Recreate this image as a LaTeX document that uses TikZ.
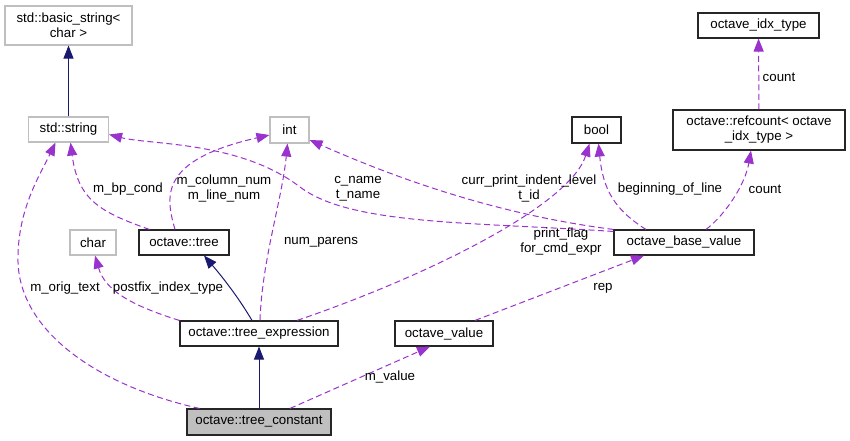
\documentclass[tikz,border=0pt]{standalone}
\usepackage{fontspec}
\setmainfont{Liberation Sans}
\usetikzlibrary{arrows.meta}
\definecolor{edgepurple}{HTML}{9A32CD}
\definecolor{inhblue}{HTML}{191970}
\definecolor{boxgray}{HTML}{BFBFBF}
\tikzset{
  cls/.style={draw=black!85,line width=1.1pt,fill=white,inner sep=0pt,align=center,
    font=\fontsize{13.3}{15}\selectfont},
  extcls/.style={cls,draw=boxgray},
  inh/.style={draw=inhblue,line width=1pt,-{Triangle[length=13pt,width=10pt]}},
  use/.style={draw=edgepurple,line width=1pt,dash pattern=on 6pt off 3.5pt,
    -{Triangle[length=13pt,width=10pt]},edgepurple},
  lbl/.style={align=center,inner sep=0pt,font=\fontsize{13.3}{15}\selectfont}
}
\begin{document}
\begin{tikzpicture}[x=1pt,y=-1pt]
\useasboundingbox (0,0) rectangle (850,441);
% classes
\node[extcls,minimum width=127pt,minimum height=39pt] (bstr) at (68.5,25.5) {std::basic\_string<\\char >};
\node[extcls,minimum width=80pt,minimum height=25pt] (str) at (68.5,129.5) {std::string};
\node[extcls,minimum width=39pt,minimum height=26pt] (int) at (289.5,130) {int};
\node[cls,minimum width=49pt,minimum height=26pt] (bool) at (596.5,130) {bool};
\node[cls,minimum width=121pt,minimum height=25pt] (idx) at (758.5,25.5) {octave\_idx\_type};
\node[cls,minimum width=172pt,minimum height=40pt] (ref) at (759,130) {octave::refcount< octave\\\_idx\_type >};
\node[cls,minimum width=140pt,minimum height=25pt] (base) at (684,242.5) {octave\_base\_value};
\node[extcls,minimum width=46pt,minimum height=25pt] (char) at (93,242.5) {char};
\node[cls,minimum width=90pt,minimum height=25pt] (tree) at (184,242.5) {octave::tree};
\node[cls,minimum width=158pt,minimum height=25pt] (texpr) at (259,333.5) {octave::tree\_expression};
\node[cls,minimum width=98pt,minimum height=25pt] (oval) at (444,333.5) {octave\_value};
\node[cls,fill=boxgray,minimum width=144pt,minimum height=26pt] (tc) at (259,422) {octave::tree\_constant};
% inheritance
\draw[inh] (str) -- (bstr);
\draw[inh] ([xshift=-7pt]texpr.north) .. controls (240,300) and (225,280) .. ([xshift=20pt]tree.south);
\draw[inh] (tc) -- (texpr);
% members
\draw[use] ([xshift=13pt]tc.north west) .. controls (95,385) and (20,330) .. (18,262)
  .. controls (17,210) and (40,175) .. ([xshift=-13pt]str.south);
\draw[use] ([xshift=11pt]tree.north west) .. controls (100,212) and (78,200) .. ([xshift=2pt]str.south);
\draw[use] ([xshift=-9pt]tree.north) .. controls (165,195) and (160,160) .. ([yshift=-5pt]int.west);
\draw[use] ([yshift=-2pt]base.north west) .. controls (470,222) and (350,225) .. (300,187)
  .. controls (240,141) and (150,145) .. ([yshift=-5pt]str.east);
\draw[use] (base.north west) .. controls (500,215) and (400,180) .. ([yshift=-10pt]int.east);
\draw[use] ([xshift=1pt]texpr.north) .. controls (262,260) and (282,200) .. ([xshift=-2pt]int.south);
\draw[use] ([xshift=38pt]texpr.north) .. controls (430,275) and (570,205) .. ([xshift=-7pt]bool.south);
\draw[use] ([xshift=-38pt]base.north) .. controls (615,210) and (603,190) .. ([xshift=2pt]bool.south);
\draw[use] ([xshift=22pt]base.north) .. controls (725,215) and (745,185) .. ([xshift=-8pt]ref.south);
\draw[use] (ref) -- (idx);
\draw[use] (texpr.north west) .. controls (130,305) and (105,290) .. ([xshift=2pt]char.south);
\draw[use] ([xshift=31pt]oval.north) -- ([xshift=-40pt]base.south);
\draw[use] ([xshift=31pt]tc.north) -- ([xshift=-14pt]oval.south);
% labels
\node[lbl] (l_orig) at (65,288) {m\_orig\_text};
\node[lbl] (l_bp) at (128,189) {m\_bp\_cond};
\node[lbl] (l_col) at (224,188.5) {m\_column\_num\\m\_line\_num};
\node[lbl] (l_cname) at (358,188.5) {c\_name\\t\_name};
\node[lbl] (l_curr) at (529,188.5) {curr\_print\_indent\_level\\t\_id};
\node[lbl] (l_begin) at (670,189) {beginning\_of\_line};
\node[lbl] (l_count) at (765,189) {count};
\node[lbl] (l_count2) at (779,77) {count};
\node[lbl] (l_num) at (321,242) {num\_parens};
\node[lbl] (l_print) at (561,242) {print\_flag\\for\_cmd\_expr};
\node[lbl] (l_postfix) at (168,288) {postfix\_index\_type};
\node[lbl] (l_rep) at (603,288) {rep};
\node[lbl] (l_value) at (390,377) {m\_value};
\end{tikzpicture}
\end{document}
